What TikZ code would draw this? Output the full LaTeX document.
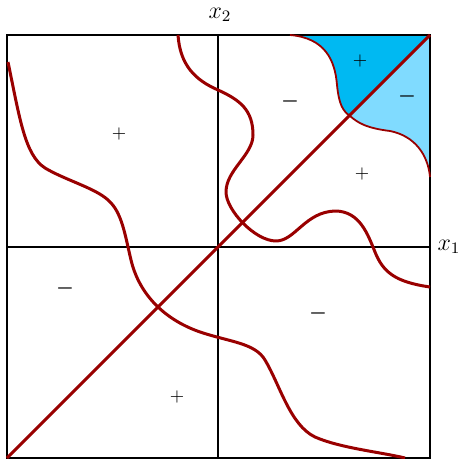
\documentclass[tikz,border=0pt]{standalone}
\usepackage{bm}
\usepackage{tikz}
\definecolor{rojo}{HTML}{990000}
\definecolor{cielo}{HTML}{00B9F2}
\definecolor{celeste}{HTML}{80DBFF}

\begin{document}
\begin{tikzpicture}[x=0.5pt, y=-0.5pt,
      borde/.style={draw=black, line width=1pt},
      frontera/.style={draw=rojo, line width=1.5pt, line join=round},
      fina/.style={draw=rojo, line width=0.9pt},
      mas/.style={font=\small, inner sep=0pt},
      menos/.style={font=\normalsize, inner sep=0pt},
      eje/.style={font=\large, inner sep=1pt}]

    \useasboundingbox (0,0) rectangle (458,459);

    \coordinate (no) at (7,35);
    \coordinate (ne) at (430,35);
    \coordinate (so) at (7,458);
    \coordinate (se) at (430,458);
    \coordinate (arriba) at (218,35);
    \coordinate (abajo) at (218,458);
    \coordinate (izq) at (7,247);
    \coordinate (der) at (430,247);
    \coordinate (corte) at (350,116);

    % regiones sombreadas
    \fill[cielo] (290,35) -- (ne) -- (corte)
        .. controls (343,111) and (339,105) .. (337,85)
        .. controls (335,60) and (325,38) .. (290,35) -- cycle;
    \fill[celeste] (corte) -- (ne) -- (430,177)
        .. controls (428,155) and (415,136) .. (390,131)
        .. controls (365,128) and (357,122) .. (corte) -- cycle;

    \draw[borde] (no) rectangle (se);
    \draw[borde] (arriba) -- (abajo);
    \draw[borde] (izq) -- (der);

    \draw[frontera] (8,62)
        .. controls (20,120) and (25,155) .. (45,168)
        .. controls (65,180) and (95,188) .. (108,200)
        .. controls (122,212) and (125,235) .. (131,260)
        .. controls (138,290) and (160,318) .. (200,332)
        .. controls (230,342) and (255,343) .. (265,360)
        .. controls (280,385) and (290,425) .. (315,437)
        .. controls (340,448) and (380,452) .. (405,458);
    \draw[frontera] (178,35)
        .. controls (180,65) and (195,80) .. (218,90)
        .. controls (240,100) and (253,110) .. (253,135)
        .. controls (253,155) and (226,170) .. (226,192)
        .. controls (226,210) and (255,241) .. (276,241)
        .. controls (295,241) and (305,212) .. (335,211)
        .. controls (360,211) and (368,235) .. (375,252)
        .. controls (383,272) and (395,282) .. (430,287);
    \draw[fina] (290,35)
        .. controls (325,38) and (335,60) .. (337,85)
        .. controls (339,105) and (343,111) .. (corte)
        .. controls (357,122) and (365,128) .. (390,131)
        .. controls (415,136) and (428,155) .. (430,177);
    \draw[frontera] (so) -- (ne);

    \node[eje] (x2) at (220,15) {$x_2$};
    \node[eje] (x1) at (449,247) {$x_1$};

    \node[mas] (m1) at (119,134) {+};
    \node[mas] (m2) at (360,61) {+};
    \node[mas] (m3) at (362,174) {+};
    \node[mas] (m4) at (177,397) {+};
    \node[menos] (n1) at (290,102) {$\bm{-}$};
    \node[menos] (n2) at (407,97) {$\bm{-}$};
    \node[menos] (n3) at (65,288) {$\bm{-}$};
    \node[menos] (n4) at (318,313) {$\bm{-}$};
  \end{tikzpicture}
\end{document}
